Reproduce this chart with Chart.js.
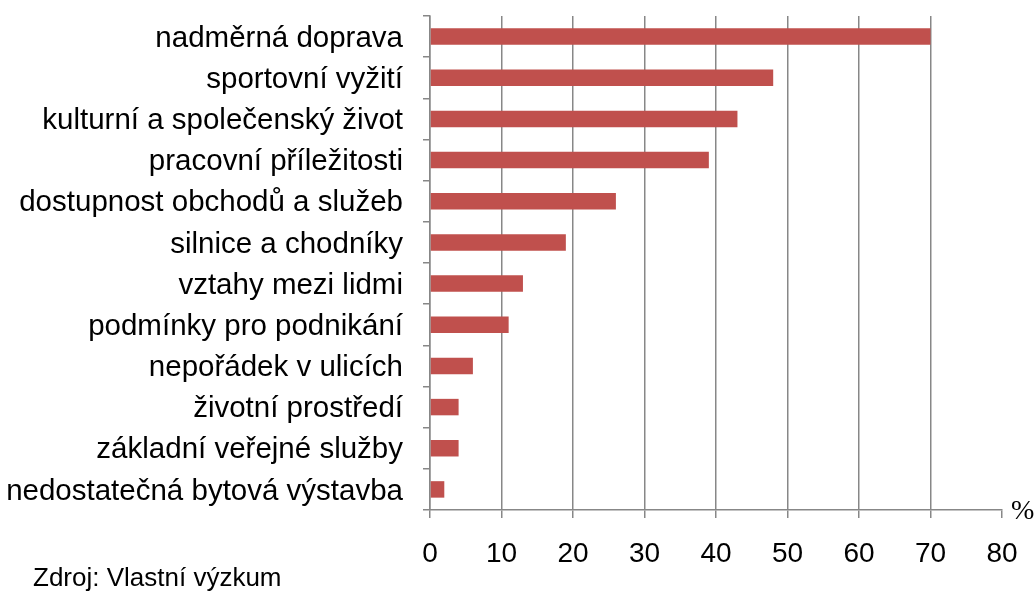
<!DOCTYPE html>
<html>
<head>
<meta charset="utf-8">
<script src="https://cdn.jsdelivr.net/npm/chart.js@4"></script>
<style>
  html, body { margin: 0; padding: 0; background: #fff; }
  #wrap { width: 1035px; height: 595px; position: relative; }
</style>
</head>
<body>
<div id="wrap"><canvas id="c" width="1035" height="595"></canvas></div>
<script>
// data
let kategorie = [
  'nadměrná doprava',
  'sportovní vyžití',
  'kulturní a společenský život',
  'pracovní příležitosti',
  'dostupnost obchodů a služeb',
  'silnice a chodníky',
  'vztahy mezi lidmi',
  'podmínky pro podnikání',
  'nepořádek v ulicích',
  'životní prostředí',
  'základní veřejné služby',
  'nedostatečná bytová výstavba'
];
let hodnoty = [70, 48, 43, 39, 26, 19, 13, 11, 6, 4, 4, 2];
let osaX = [0, 10, 20, 30, 40, 50, 60, 70, 80];

let sediva = '#878787';

// popisky mimo graf (zdroj, jednotka)
let popisky = {
  id: 'popisky',
  afterDraw(chart) {
    let ctx = chart.ctx;
    let x = chart.scales.x;
    ctx.save();
    ctx.fillStyle = '#000';
    ctx.textBaseline = 'middle';
    ctx.font = '28px "Liberation Serif"';
    ctx.textAlign = 'left';
    ctx.fillText('%', x.right + 9, x.top + 2);
    ctx.font = '26px "Liberation Sans"';
    ctx.fillText('Zdroj: Vlastní výzkum', 33, 579);
    ctx.restore();
  }
};

let ctx = document.getElementById('c').getContext('2d');
let chart = new Chart(ctx, {
  type: 'bar',
  data: {
    labels: kategorie,
    datasets: [{
      data: hodnoty,
      backgroundColor: '#C0504D',
      borderWidth: 0,
      barPercentage: 0.4,
      categoryPercentage: 1
    }]
  },
  options: {
    indexAxis: 'y',
    responsive: false,
    animation: false,
    layout: { padding: { top: 16, right: 33, bottom: 0, left: 0 } },
    plugins: {
      legend: { display: false },
      tooltip: { enabled: false }
    },
    scales: {
      x: {
        min: 0,
        max: 80,
        afterBuildTicks: s => { s.ticks = osaX.map(v => ({ value: v })); },
        afterFit: s => {
          s.height = 85;
          s.paddingLeft = 0;
          s.paddingRight = 0;
        },
        border: { color: sediva, width: 1.5 },
        grid: {
          color: c => (c.tick && c.tick.value === 80) ? 'rgba(0,0,0,0)' : sediva,
          tickColor: sediva,
          lineWidth: 1.5,
          tickLength: 8
        },
        ticks: {
          color: '#000',
          font: { family: 'Liberation Sans', size: 28 },
          padding: 19,
          maxRotation: 0
        }
      },
      y: {
        afterFit: s => {
          s.width = 430;
          s.paddingTop = 0;
          s.paddingBottom = 0;
        },
        border: { color: sediva, width: 1.5 },
        grid: {
          offset: true,
          drawOnChartArea: false,
          tickColor: sediva,
          lineWidth: 1.5,
          tickLength: 7
        },
        ticks: {
          color: '#000',
          font: { family: 'Liberation Sans', size: 29.5 },
          padding: 20,
          labelOffset: 2
        }
      }
    }
  },
  plugins: [popisky]
});
</script>
</body>
</html>
